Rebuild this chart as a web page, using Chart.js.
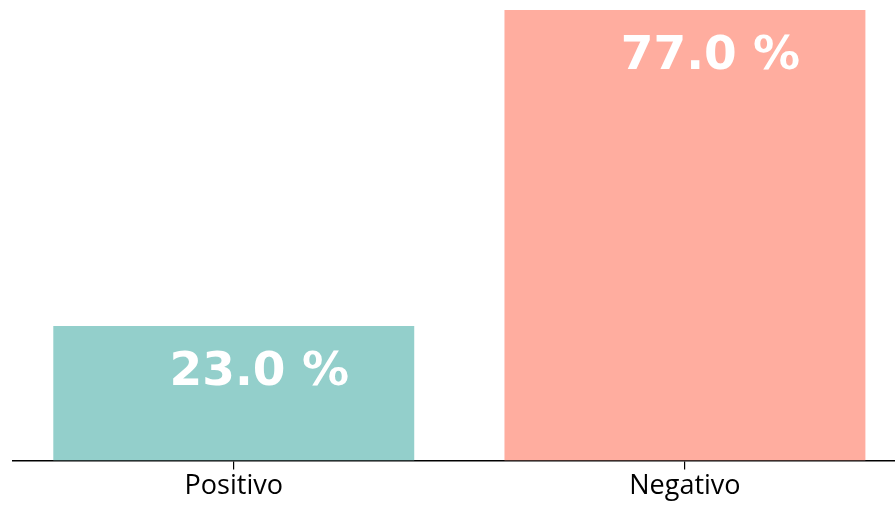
<!DOCTYPE html>
<html>
<head>
<meta charset="utf-8">
<script src="https://cdn.jsdelivr.net/npm/chart.js@4.4.0/dist/chart.umd.min.js"></script>
<style>
  html, body { margin: 0; padding: 0; background: #ffffff; overflow: hidden; width: 895px; height: 506px; }
  #wrap { position: absolute; left: 0; top: 0; width: 920px; height: 506px; }
</style>
</head>
<body>
<div id="wrap"><canvas id="c" width="920" height="506"></canvas></div>
<script>
const CATEGORIES = ['Positivo', 'Negativo'];
const VALUES = [23.0, 77.0];
const BAR_COLORS = ['#93CFCB', '#FFAD9F'];

const valueLabels = {
  id: 'valueLabels',
  afterDatasetsDraw(chart) {
    const ctx = chart.ctx;
    const meta = chart.getDatasetMeta(0);
    ctx.save();
    ctx.fillStyle = '#ffffff';
    ctx.font = 'bold 47px "DejaVu Sans"';
    ctx.textAlign = 'center';
    ctx.textBaseline = 'alphabetic';
    meta.data.forEach((bar, i) => {
      ctx.fillText(VALUES[i].toFixed(1) + ' %', bar.x + 25.5, bar.y + 58.5);
    });
    ctx.restore();
  }
};

new Chart(document.getElementById('c'), {
  type: 'bar',
  data: {
    datasets: [{
      data: CATEGORIES.map((c, i) => ({ x: i, y: VALUES[i] })),
      backgroundColor: BAR_COLORS,
      borderWidth: 0,
      categoryPercentage: 1.0,
      barPercentage: 0.8
    }]
  },
  options: {
    responsive: false,
    animation: false,
    devicePixelRatio: 1,
    layout: { padding: { left: 12.7, right: 14, top: 10, bottom: 2 } },
    plugins: { legend: { display: false }, tooltip: { enabled: false } },
    scales: {
      x: {
        type: 'linear',
        min: -0.49,
        max: 1.49,
        offset: false,
        afterBuildTicks(scale) { scale.ticks = CATEGORIES.map((_, i) => ({ value: i })); },
        grid: { offset: false, drawOnChartArea: false, drawTicks: true, tickLength: 9, color: '#000000', lineWidth: 1.2 },
        border: { display: true, color: '#000000', width: 1.5 },
        ticks: {
          autoSkip: false,
          maxRotation: 0,
          padding: 1,
          color: '#000000',
          font: { family: '"Open Sans"', size: 27 },
          callback: (v) => CATEGORIES[v]
        }
      },
      y: {
        display: false,
        min: 0,
        max: 77
      }
    }
  },
  plugins: [valueLabels]
});
</script>
</body>
</html>
